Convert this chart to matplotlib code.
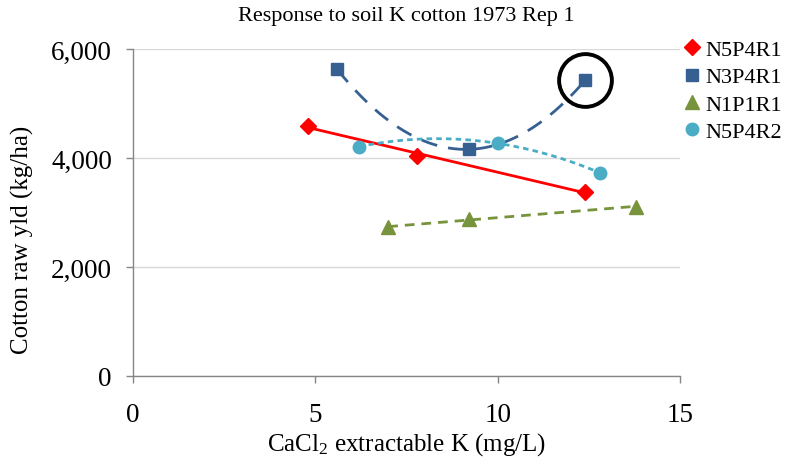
import numpy as np
import matplotlib.pyplot as plt

plt.rcParams['font.family'] = ['Liberation Serif', 'DejaVu Serif']
plt.rcParams['mathtext.fontset'] = 'custom'
plt.rcParams['mathtext.rm'] = 'Liberation Serif'
plt.rcParams['mathtext.it'] = 'Liberation Serif:italic'

# soil test K (mg/L) and cotton yield (kg/ha) per treatment
x_n5p4r1 = [4.8, 7.8, 12.4]
y_n5p4r1 = [4590, 4040, 3380]
x_n3p4r1 = [5.6, 9.2, 12.4]
y_n3p4r1 = [5630, 4160, 5430]
x_n1p1r1 = [7.0, 9.2, 13.8]
y_n1p1r1 = [2730, 2880, 3110]
x_n5p4r2 = [6.2, 10.0, 12.8]
y_n5p4r2 = [4210, 4270, 3730]

# highlighted observation
flag_x, flag_y = 12.4, 5430

fig = plt.figure(figsize=(7.9, 4.64), dpi=100)
ax = fig.add_axes([0.168, 0.1875, 0.693, 0.7045])

series = [
    ('N5P4R1', x_n5p4r1, y_n5p4r1, '#FF0000', 'D', 8, 1, None),
    ('N3P4R1', x_n3p4r1, y_n3p4r1, '#376092', 's', 8, 2, (0, (6, 4))),
    ('N1P1R1', x_n1p1r1, y_n1p1r1, '#77933C', '^', 10, 1, (0, (3.5, 2.5))),
    ('N5P4R2', x_n5p4r2, y_n5p4r2, '#4BACC6', 'o', 9, 2, (0, (2, 1.5))),
]

for name, xs, ys, col, mk, ms, order, dash in series:
    xs = np.array(xs)
    ys = np.array(ys)
    # trend line over the data range
    coef = np.polyfit(xs, ys, order)
    xf = np.linspace(xs.min(), xs.max(), 200)
    line, = ax.plot(xf, np.polyval(coef, xf), color=col, lw=2, zorder=2)
    if dash is not None:
        line.set_linestyle(dash)
    ax.plot(xs, ys, linestyle='none', marker=mk, markersize=ms, color=col,
            markeredgecolor=col, label=name, zorder=3)

ax.plot([flag_x], [flag_y], marker='o', markersize=38, fillstyle='none',
        markeredgewidth=2.8, color='black', linestyle='none', zorder=4)

ax.set_xlim(0, 15)
ax.set_ylim(0, 6000)
ax.set_xticks([0, 5, 10, 15])
ax.set_yticks([0, 2000, 4000, 6000])
ax.yaxis.set_major_formatter(plt.FuncFormatter(lambda v, p: f'{int(v):,}'))
ax.grid(axis='y', color='#D9D9D9', lw=1)
ax.set_axisbelow(True)
for s in ['top', 'right']:
    ax.spines[s].set_visible(False)
for s in ['left', 'bottom']:
    ax.spines[s].set_color('#868686')
    ax.spines[s].set_linewidth(1)
ax.tick_params(axis='both', color='#868686', length=5, width=1, labelsize=19.5)
ax.tick_params(axis='x', pad=14)
ax.tick_params(axis='y', pad=10)

ax.set_title('Response to soil K cotton 1973 Rep 1', fontsize=16, pad=21)
ax.set_xlabel('CaCl$_2$ extractable K (mg/L)', fontsize=18, labelpad=2)
ax.set_ylabel('Cotton raw yld (kg/ha)', fontsize=18)
ax.yaxis.set_label_coords(-0.18, 0.42)

ax.legend(loc='upper left', bbox_to_anchor=(0.985, 1.07), frameon=False,
          fontsize=16, handlelength=0.6, handletextpad=0.3, labelspacing=0.3,
          borderaxespad=0.2)

fig.savefig('out.png', dpi=100)
